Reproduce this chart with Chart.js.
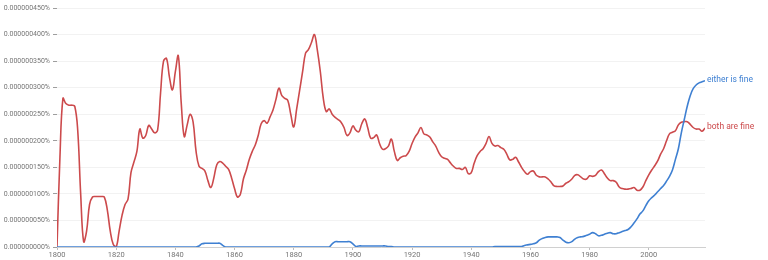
<!DOCTYPE html>
<html>
<head>
<meta charset="utf-8">
<script src="https://cdn.jsdelivr.net/npm/chart.js@4"></script>
<style>
    html, body { margin: 0; padding: 0; background: #fff; }
    #wrap { width: 768px; height: 260px; }
</style>
</head>
<body>
<div id="wrap"><canvas id="ngramChart" width="768" height="260"></canvas></div>
<script>
// Năm 1800 - 2019
const years = [];
for (let y = 1800; y <= 2019; y++) years.push(y);

// "both are fine" (đơn vị: 0.000000001%)
const bothAreFine = [
    0.000, 0.170, 0.280, 0.270, 0.267, 0.267, 0.265, 0.220, 0.100, 0.010,
    0.030, 0.080, 0.094, 0.095, 0.095, 0.095, 0.094, 0.070, 0.030, 0.005,
    0.000, 0.030, 0.060, 0.080, 0.090, 0.140, 0.160, 0.180, 0.222, 0.205,
    0.210, 0.229, 0.222, 0.215, 0.220, 0.290, 0.350, 0.355, 0.320, 0.296,
    0.330, 0.360, 0.270, 0.208, 0.230, 0.250, 0.235, 0.180, 0.152, 0.148,
    0.143, 0.125, 0.112, 0.130, 0.155, 0.161, 0.158, 0.152, 0.146, 0.130,
    0.110, 0.094, 0.100, 0.128, 0.145, 0.165, 0.180, 0.192, 0.210, 0.232,
    0.238, 0.233, 0.245, 0.258, 0.278, 0.299, 0.285, 0.280, 0.276, 0.250,
    0.226, 0.260, 0.295, 0.330, 0.365, 0.372, 0.385, 0.400, 0.370, 0.330,
    0.280, 0.255, 0.260, 0.250, 0.244, 0.240, 0.235, 0.225, 0.210, 0.215,
    0.228, 0.220, 0.217, 0.232, 0.241, 0.225, 0.205, 0.206, 0.211, 0.195,
    0.184, 0.185, 0.190, 0.203, 0.180, 0.163, 0.168, 0.171, 0.172, 0.180,
    0.195, 0.207, 0.215, 0.225, 0.213, 0.211, 0.207, 0.198, 0.190, 0.178,
    0.170, 0.167, 0.165, 0.158, 0.152, 0.148, 0.148, 0.146, 0.150, 0.138,
    0.140, 0.158, 0.172, 0.180, 0.185, 0.195, 0.208, 0.195, 0.190, 0.191,
    0.187, 0.184, 0.175, 0.164, 0.165, 0.169, 0.160, 0.150, 0.142, 0.137,
    0.142, 0.143, 0.135, 0.132, 0.132, 0.132, 0.128, 0.122, 0.115, 0.114,
    0.114, 0.115, 0.120, 0.123, 0.128, 0.135, 0.136, 0.132, 0.128, 0.128,
    0.134, 0.133, 0.135, 0.142, 0.145, 0.138, 0.130, 0.125, 0.125, 0.122,
    0.113, 0.110, 0.109, 0.109, 0.110, 0.112, 0.107, 0.107, 0.113, 0.125,
    0.136, 0.145, 0.153, 0.162, 0.175, 0.185, 0.200, 0.213, 0.216, 0.219,
    0.230, 0.235, 0.236, 0.236, 0.231, 0.225, 0.222, 0.222, 0.218, 0.224
];

// "either is fine"
const eitherIsFine = [
    0, 0, 0, 0, 0, 0, 0, 0, 0, 0,
    0, 0, 0, 0, 0, 0, 0, 0, 0, 0,
    0, 0, 0, 0, 0, 0, 0, 0, 0, 0,
    0, 0, 0, 0, 0, 0, 0, 0, 0, 0,
    0, 0, 0, 0, 0, 0, 0, 0, 0.002, 0.006,
    0.007, 0.007, 0.007, 0.007, 0.007, 0.007, 0.003, 0, 0, 0,
    0, 0, 0, 0, 0, 0, 0, 0, 0, 0,
    0, 0, 0, 0, 0, 0, 0, 0, 0, 0,
    0, 0, 0, 0, 0, 0, 0, 0, 0, 0,
    0, 0, 0, 0.006, 0.010, 0.010, 0.010, 0.010, 0.010, 0.010,
    0.006, 0.001, 0.002, 0.002, 0.002, 0.002, 0.002, 0.002, 0.002, 0.002,
    0.002, 0.002, 0.001, 0.001, 0, 0, 0, 0, 0, 0,
    0, 0, 0, 0, 0, 0, 0, 0, 0, 0,
    0, 0, 0, 0, 0, 0, 0, 0, 0, 0,
    0, 0, 0, 0, 0, 0, 0, 0, 0.001, 0.001,
    0.001, 0.001, 0.001, 0.001, 0.001, 0.001, 0.001, 0.001, 0.003, 0.004,
    0.005, 0.006, 0.008, 0.013, 0.016, 0.018, 0.019, 0.019, 0.019, 0.019,
    0.018, 0.013, 0.009, 0.008, 0.010, 0.015, 0.018, 0.019, 0.020, 0.022,
    0.024, 0.027, 0.025, 0.021, 0.022, 0.024, 0.026, 0.027, 0.025, 0.025,
    0.027, 0.029, 0.031, 0.033, 0.038, 0.045, 0.053, 0.062, 0.068, 0.078,
    0.087, 0.093, 0.098, 0.104, 0.110, 0.116, 0.124, 0.133, 0.145, 0.165,
    0.185, 0.215, 0.240, 0.265, 0.285, 0.298, 0.305, 0.309, 0.311, 0.313
];

const xTicks = [1800, 1820, 1840, 1860, 1880, 1900, 1920, 1940, 1960, 1980, 2000];
const yTicks = [0, 0.05, 0.10, 0.15, 0.20, 0.25, 0.30, 0.35, 0.40, 0.45];

const BLUE = '#3f80d2';
const RED = '#cc4a4c';
const FONT = 'Roboto, "Noto Sans", sans-serif';

function toPoints(values) {
    return values.map((v, i) => ({ x: years[i], y: v }));
}

// Vẽ nhãn ở cuối mỗi đường
const endLabels = {
    id: 'endLabels',
    afterDatasetsDraw(chart) {
        const c = chart.ctx;
        c.save();
        c.font = '8.5px ' + FONT;
        c.textBaseline = 'middle';
        c.textAlign = 'left';
        chart.data.datasets.forEach((ds, i) => {
            const meta = chart.getDatasetMeta(i);
            const last = meta.data[meta.data.length - 1];
            c.fillStyle = ds.borderColor;
            c.fillText(ds.label, last.x + 2, last.y - 1);
        });
        c.restore();
    }
};

const ctx = document.getElementById('ngramChart').getContext('2d');
const chart = new Chart(ctx, {
    type: 'line',
    data: {
        datasets: [{
            label: 'either is fine',
            data: toPoints(eitherIsFine),
            borderColor: BLUE,
            borderWidth: 1.6,
            pointRadius: 0,
            tension: 0.4,
            fill: false
        }, {
            label: 'both are fine',
            data: toPoints(bothAreFine),
            borderColor: RED,
            borderWidth: 1.6,
            pointRadius: 0,
            tension: 0.4,
            fill: false
        }]
    },
    options: {
        responsive: false,
        animation: false,
        devicePixelRatio: 1,
        layout: { padding: { top: 8, right: 63, left: 0, bottom: 0 } },
        plugins: {
            legend: { display: false },
            tooltip: { enabled: false }
        },
        scales: {
            x: {
                type: 'linear',
                min: 1800,
                max: 2019,
                afterBuildTicks: (axis) => {
                    axis.ticks = xTicks.map(v => ({ value: v }));
                },
                afterFit: (axis) => { axis.height = 13; },
                grid: {
                    drawOnChartArea: false,
                    tickLength: 3,
                    tickColor: '#bdbdbd'
                },
                border: { color: '#d0d0d0' },
                ticks: {
                    padding: 1,
                    maxRotation: 0,
                    color: '#757575',
                    font: { family: FONT, size: 7.5 },
                    callback: (v) => String(v)
                }
            },
            y: {
                min: 0,
                max: 0.45,
                afterBuildTicks: (axis) => {
                    axis.ticks = yTicks.map(v => ({ value: v }));
                },
                afterFit: (axis) => { axis.width = 57; },
                grid: {
                    color: '#f2f2f2',
                    tickLength: 4,
                    tickColor: '#9e9e9e'
                },
                border: { display: false },
                ticks: {
                    padding: 3,
                    color: '#757575',
                    font: { family: FONT, size: 7 },
                    callback: (v) => (v * 1e-6).toFixed(9) + '%'
                }
            }
        }
    },
    plugins: [endLabels]
});
</script>
</body>
</html>
